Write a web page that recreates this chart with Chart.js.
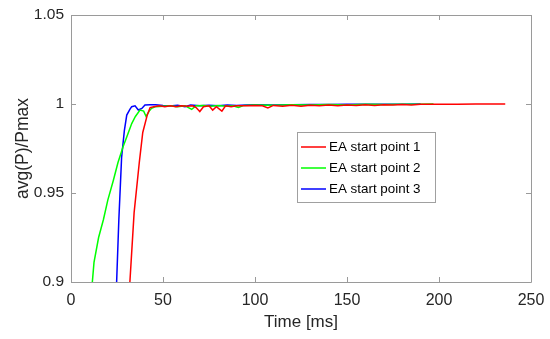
<!DOCTYPE html>
<html>
<head>
<meta charset="utf-8">
<script src="https://cdn.jsdelivr.net/npm/chart.js@4"></script>
<style>
  html, body { margin: 0; padding: 0; background: #fff; }
  #wrap { width: 550px; height: 339px; }
</style>
</head>
<body>
<div id="wrap"><canvas id="chart" width="550" height="339"></canvas></div>
<script>
// ---- data ----
var seriesNames = ['EA start point 1', 'EA start point 2', 'EA start point 3'];
var seriesColors = ['#ff0000', '#00ff00', '#0000ff'];

var t1 = [32, 34.3, 37.1, 39, 41.5, 43, 45, 48, 51, 54, 57, 60, 63, 66, 68, 70, 72, 75, 77, 79, 82, 84, 87, 90, 95,
          100, 104, 107, 110, 115, 120, 125, 130, 135, 140, 145, 150, 155, 160, 165, 170, 175, 180, 185, 190, 200, 210, 220, 236];
var p1 = [0.9, 0.939, 0.967, 0.984, 0.994, 0.998, 0.9985, 0.999, 0.9985, 0.999, 0.9985, 0.999, 0.9988, 0.999, 0.998, 0.9958,
          0.9985, 0.999, 0.9966, 0.9985, 0.996, 0.999, 0.9985, 0.999, 0.999,
          0.9992, 0.999, 0.9978, 0.9992, 0.9988, 0.9993, 0.9988, 0.9993, 0.999, 0.9995, 0.999, 0.9995, 0.9992, 0.9996,
          0.9992, 0.9996, 0.9994, 0.9997, 0.9995, 0.9998, 0.9999, 0.9999, 1.0, 1.0];

var t2 = [11.6, 12.5, 15, 17.6, 20, 23, 25.5, 28.3, 30.5, 33, 35, 37.5, 39.5, 40.8, 42.5, 43.8, 46, 50, 54, 58, 62, 65.6,
          68, 72, 76, 80, 84, 88, 91, 94, 100, 110, 120, 130, 140, 150, 160, 170, 180, 190, 197];
var p2 = [0.9, 0.911, 0.925, 0.935, 0.946, 0.957, 0.967, 0.976, 0.982, 0.989, 0.993, 0.9966, 0.996, 0.993, 0.996, 0.9976,
          0.9985, 0.9988, 0.999, 0.9985, 0.999, 0.997, 0.999, 0.9992, 0.9988, 0.9992, 0.9988, 0.999, 0.998, 0.9992,
          0.9995, 0.9993, 0.9996, 0.9994, 0.9997, 0.9995, 0.9998, 0.9997, 0.9999, 0.9999, 1.0];

var t3 = [24.8, 26, 27.5, 29, 30.3, 32, 33, 34.8, 36.6, 38.5, 40.2, 43, 46, 50, 55, 58, 62, 65, 70, 75, 80, 85, 90, 95,
          100, 110, 120, 130, 140, 150, 160, 170, 180, 190];
var p3 = [0.9, 0.935, 0.97, 0.985, 0.9938, 0.997, 0.9985, 0.999, 0.9966, 0.9975, 0.9994, 0.9996, 0.9996, 0.9992, 0.999,
          0.9993, 0.9985, 0.9995, 0.999, 0.9993, 0.999, 0.9995, 0.9992, 0.9995,
          0.9996, 0.9995, 0.9996, 0.9997, 0.9997, 0.9998, 0.9998, 0.9999, 0.9999, 1.0];

var xTicks = [0, 50, 100, 150, 200, 250];
var yTicks = [0.9, 0.95, 1, 1.05];

var AXIS_COLOR = '#9a9a9a';
var TEXT_COLOR = '#262626';
var FONT = 'Arial, "Liberation Sans", sans-serif';

function toPoints(xs, ys) {
  return xs.map(function(x, i) { return { x: x, y: ys[i] }; });
}

// MATLAB-style box with inward ticks on all four sides, plus the boxed legend
var matlabBox = {
  id: 'matlabBox',
  afterDraw: function(chart) {
    var ctx = chart.ctx;
    var a = chart.chartArea;
    var xs = chart.scales.x, ys = chart.scales.y;
    var tick = 5;
    ctx.save();
    ctx.strokeStyle = AXIS_COLOR;
    ctx.lineWidth = 1;
    ctx.beginPath();
    ctx.rect(Math.round(a.left) + 0.5, Math.round(a.top) + 0.5,
             Math.round(a.right - a.left), Math.round(a.bottom - a.top));
    xTicks.forEach(function(v) {
      var px = Math.round(xs.getPixelForValue(v)) + 0.5;
      ctx.moveTo(px, a.bottom); ctx.lineTo(px, a.bottom - tick);
      ctx.moveTo(px, a.top); ctx.lineTo(px, a.top + tick);
    });
    yTicks.forEach(function(v) {
      var py = Math.round(ys.getPixelForValue(v)) + 0.5;
      ctx.moveTo(a.left, py); ctx.lineTo(a.left + tick, py);
      ctx.moveTo(a.right, py); ctx.lineTo(a.right - tick, py);
    });
    ctx.stroke();

    // legend box
    var lx = 297, ly = 132, lw = 138, lh = 70;
    ctx.fillStyle = '#fff';
    ctx.fillRect(lx, ly, lw, lh);
    ctx.strokeStyle = '#a0a0a0';
    ctx.strokeRect(lx + 0.5, ly + 0.5, lw, lh);
    ctx.font = '13.4px ' + FONT;
    ctx.textBaseline = 'middle';
    ctx.textAlign = 'left';
    seriesNames.forEach(function(name, i) {
      var y = ly + 15 + i * 21;
      ctx.strokeStyle = seriesColors[i];
      ctx.lineWidth = 1.5;
      ctx.beginPath();
      ctx.moveTo(lx + 4, y); ctx.lineTo(lx + 29, y);
      ctx.stroke();
      ctx.fillStyle = '#000';
      ctx.fillText(name, lx + 32, y);
    });
    ctx.restore();
  }
};

function makeSet(i, xs, ys) {
  return {
    label: seriesNames[i],
    data: toPoints(xs, ys),
    borderColor: seriesColors[i],
    backgroundColor: seriesColors[i],
    borderWidth: 1.5,
    pointRadius: 0,
    showLine: true,
    tension: 0,
    fill: false
  };
}

new Chart(document.getElementById('chart').getContext('2d'), {
  type: 'scatter',
  data: {
    datasets: [makeSet(0, t1, p1), makeSet(1, t2, p2), makeSet(2, t3, p3)]
  },
  options: {
    responsive: false,
    animation: false,
    layout: { padding: { left: 0, right: 19, top: 15, bottom: 0 } },
    plugins: {
      legend: { display: false },
      tooltip: { enabled: false }
    },
    scales: {
      x: {
        type: 'linear',
        min: 0, max: 250,
        afterBuildTicks: function(s) { s.ticks = xTicks.map(function(v) { return { value: v }; }); },
        afterFit: function(s) { s.height = 57; s.paddingLeft = 0; s.paddingRight = 0; },
        grid: { display: false, drawTicks: false },
        border: { display: false },
        ticks: { color: TEXT_COLOR, font: { family: FONT, size: 16 }, padding: 9, maxRotation: 0 },
        title: { display: true, text: 'Time [ms]', color: TEXT_COLOR, font: { family: FONT, size: 17 }, padding: { top: 0, bottom: 6 } }
      },
      y: {
        type: 'linear',
        min: 0.9, max: 1.05,
        afterBuildTicks: function(s) { s.ticks = yTicks.map(function(v) { return { value: v }; }); },
        afterFit: function(s) { s.width = 71; s.paddingTop = 0; s.paddingBottom = 0; },
        grid: { display: false, drawTicks: false },
        border: { display: false },
        ticks: {
          color: TEXT_COLOR, font: { family: FONT, size: 15.5 }, padding: 7,
          callback: function(v) { return String(Number(v.toFixed(2))); }
        },
        title: { display: true, text: 'avg(P)/Pmax', color: TEXT_COLOR, font: { family: FONT, size: 17.5 }, padding: { top: 13, bottom: 0 } }
      }
    }
  },
  plugins: [matlabBox]
});
</script>
</body>
</html>
